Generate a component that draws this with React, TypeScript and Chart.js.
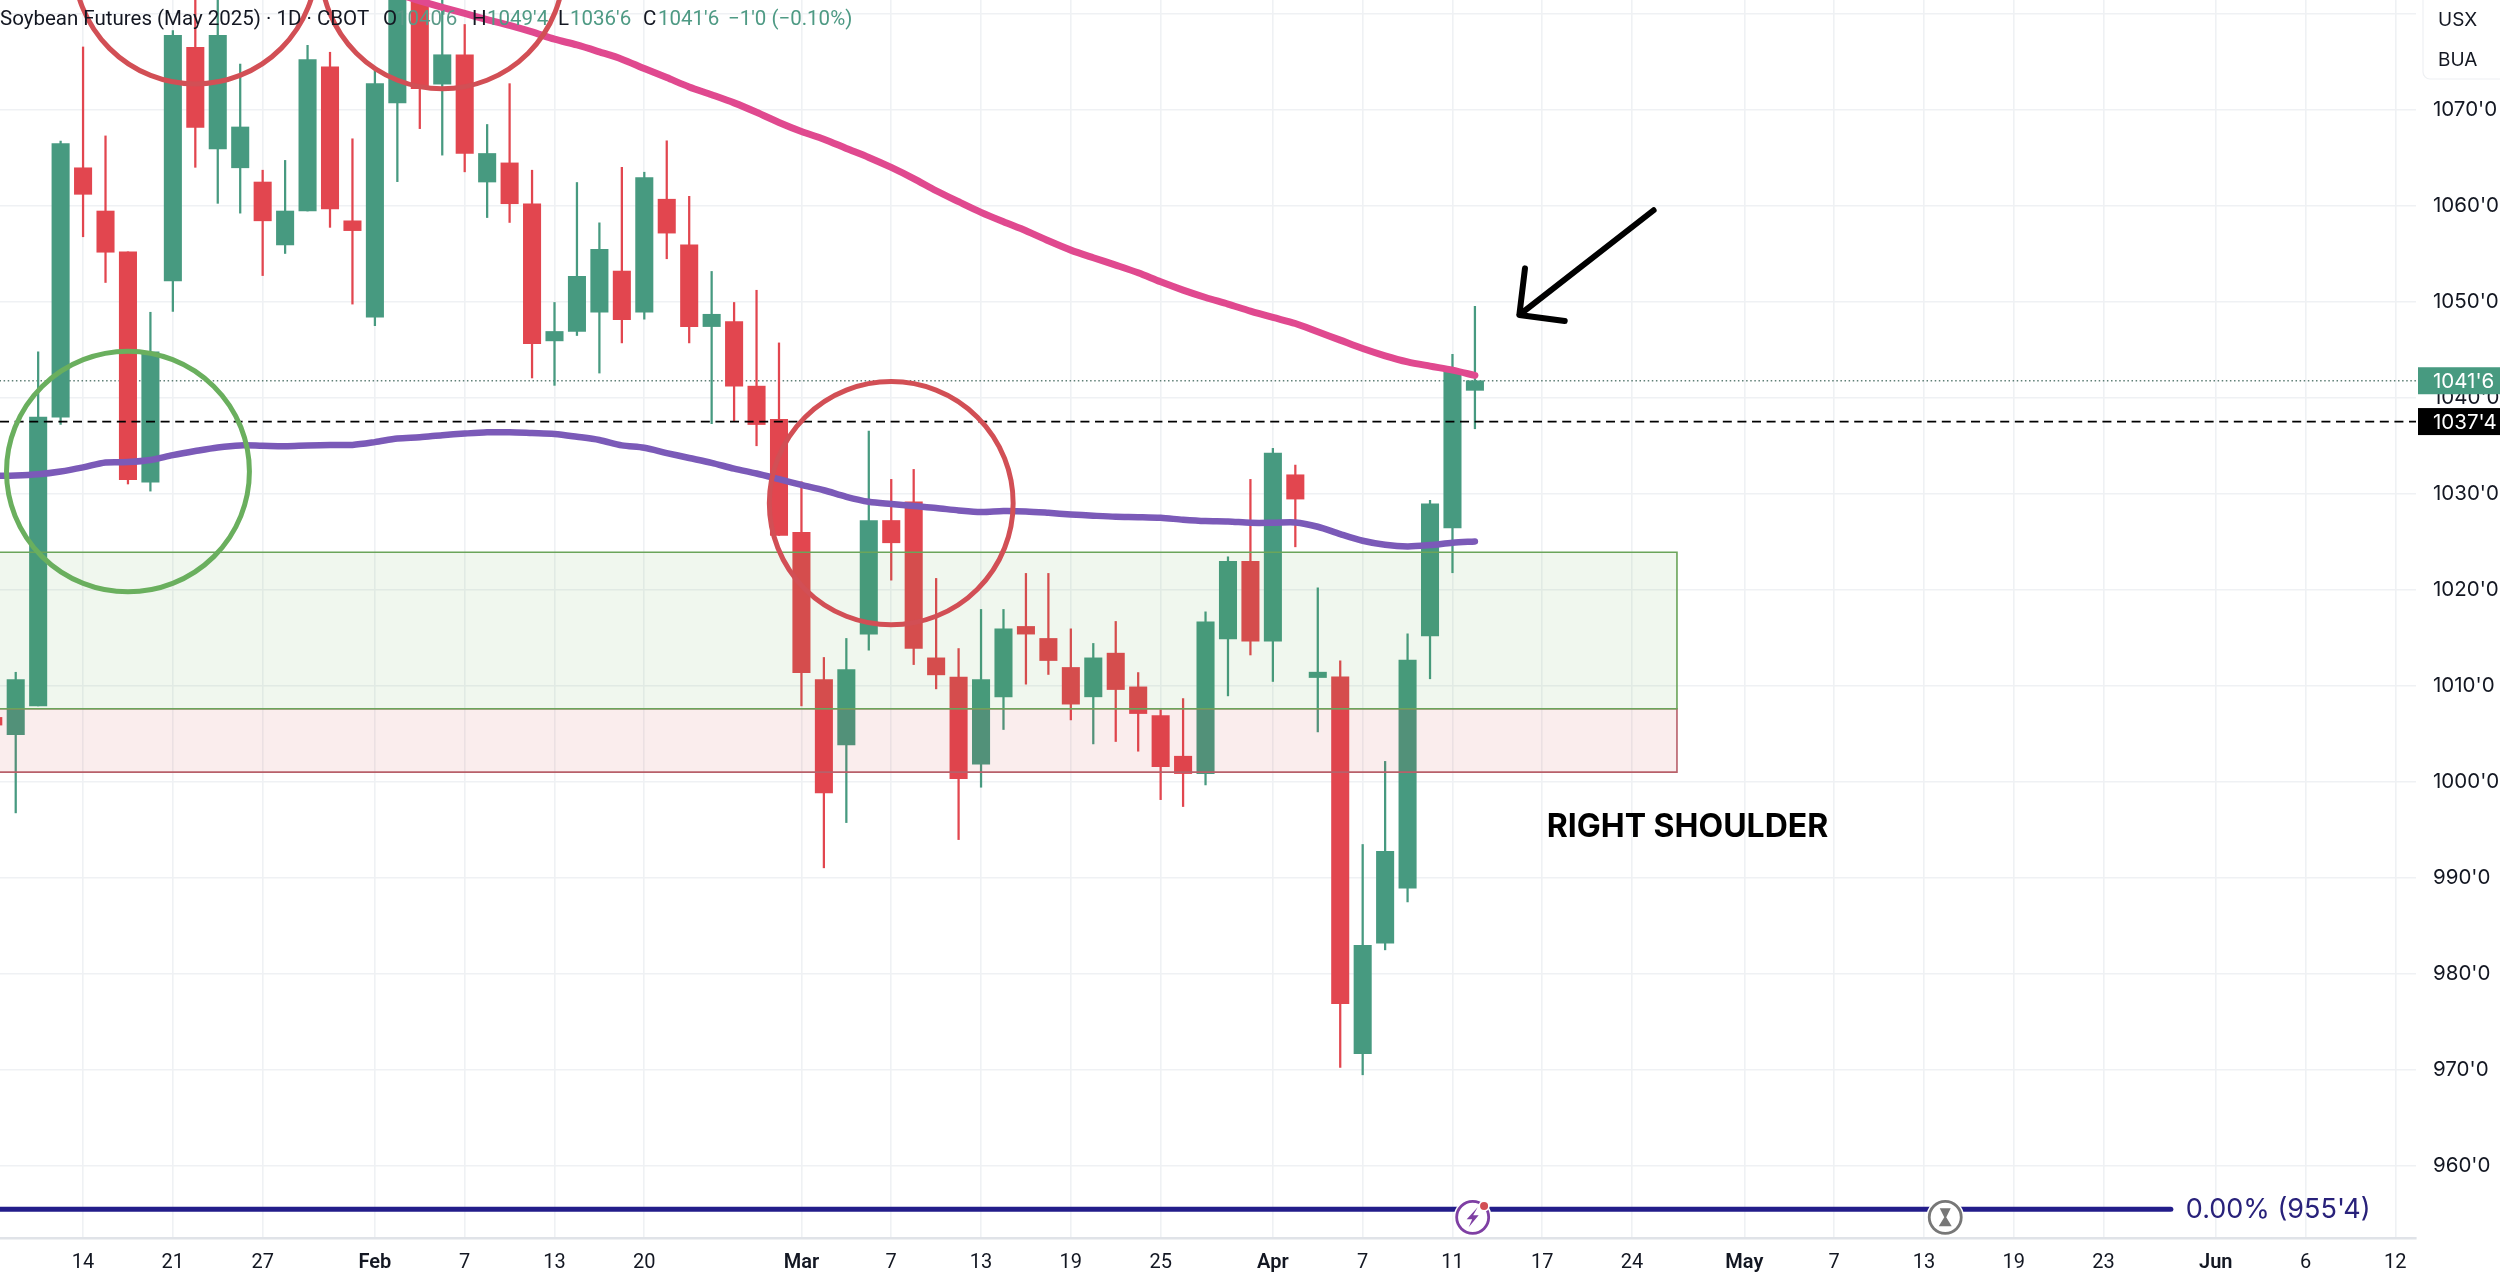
import React, { useEffect, useRef } from "react";
import { Chart, registerables } from "chart.js";

Chart.register(...registerables);

// Candles: the first entry is session -1, each next entry is one session later
const opens = [1006.7,1004.9,1007.9,1037.96,1063.92,1059.42,1055.17,1031.2,1052.15,1076.46,1065.88,1063.92,1062.44,1055.89,1059.42,1074.42,1058.4,1048.37,1070.68,1083,1072.63,1075.69,1062.44,1064.43,1060.18,1045.9,1046.88,1048.88,1053.17,1048.88,1060.65,1055.89,1047.39,1047.9,1041.19,1037.73,1025.96,1010.65,1003.84,1015.37,1027.2,1029.15,1012.9,1010.89,1001.83,1008.84,1016.17,1014.92,1011.9,1008.84,1013.39,1009.88,1006.9,1002.66,1000.85,1014.88,1022.94,1014.64,1031.96,1010.85,1010.92,971.68,983.2,988.93,1015.19,1026.44,1040.75];
const closes = [1005.9,1010.65,1037.96,1066.43,1061.16,1055.13,1031.45,1044.76,1077.7,1068.13,1077.7,1068.17,1058.4,1059.42,1075.18,1059.63,1057.38,1072.68,1083,1072.17,1075.69,1065.41,1065.41,1060.18,1045.61,1046.88,1052.62,1055.42,1048.11,1062.9,1057.12,1047.39,1048.67,1041.19,1037.19,1025.65,1011.37,998.84,1011.69,1027.2,1024.88,1013.87,1011.13,1000.33,1010.65,1015.92,1015.37,1012.62,1008.08,1012.9,1009.6,1007.1,1001.58,1000.85,1016.65,1022.94,1014.64,1034.22,1029.43,1011.41,976.9,982.96,992.76,1012.68,1028.93,1042.8,1041.75];
const highs = [1007.5,1011.4,1044.76,1066.7,1076.5,1067.24,1055.17,1048.88,1078.2,1083,1083,1074.72,1063.67,1064.69,1076.67,1075.95,1066.94,1074.2,1084,1084,1082,1078.84,1068.43,1072.68,1063.67,1049.9,1062.39,1058.19,1063.97,1063.46,1066.73,1060.95,1053.13,1049.9,1051.17,1045.69,1031.23,1012.94,1014.92,1036.51,1031.48,1032.52,1021.17,1013.87,1017.94,1017.94,1021.69,1021.69,1015.92,1014.4,1016.69,1011.37,1007.5,1008.66,1017.69,1023.42,1031.48,1034.71,1032.97,1020.19,1012.6,993.47,1002.12,1015.39,1029.3,1044.5,1049.5];
const lows = [1005.5,996.76,1007.9,1037.2,1056.74,1051.98,1031.0,1030.26,1048.96,1063.97,1060.22,1059.2,1052.7,1055.0,1059.42,1057.72,1049.73,1047.48,1062.48,1068.0,1065.24,1063.5,1058.74,1058.23,1042.04,1041.27,1046.46,1042.55,1045.69,1048.16,1054.45,1045.69,1037.28,1037.6,1034.98,1025.65,1007.9,991.04,995.75,1013.7,1020.99,1012.2,1009.67,993.98,999.43,1005.44,1010.16,1011.17,1006.44,1003.94,1004.19,1003.18,998.14,997.42,999.67,1008.94,1013.2,1010.44,1024.46,1005.19,970.25,969.49,982.5,987.5,1010.72,1021.76,1036.75];
const candleSessions = opens.map((_, i) => i - 1);

// Slow moving average (purple), starting at session -1
const purpleAverage = [1031.85,1031.88,1032.01,1032.3,1032.73,1033.24,1033.28,1033.49,1034.0,1034.43,1034.81,1035.02,1034.98,1034.94,1035.02,1035.07,1035.07,1035.36,1035.74,1035.87,1036.08,1036.25,1036.38,1036.38,1036.3,1036.21,1035.92,1035.58,1035.02,1034.77,1034.22,1033.71,1033.2,1032.6,1032.09,1031.5,1030.9,1030.35,1029.67,1029.15,1028.91,1028.7,1028.5,1028.25,1028.08,1028.18,1028.14,1028.0,1027.83,1027.7,1027.59,1027.55,1027.48,1027.28,1027.14,1027.1,1026.96,1026.96,1027.0,1026.55,1025.78,1025.09,1024.67,1024.5,1024.64,1024.88,1025.02];
// Fast moving average (pink), starting at session 16
const pinkFirstSession = 16;
const pinkAverage = [1082.5,1082.0,1081.3,1080.62,1079.99,1079.35,1078.75,1078.07,1077.31,1076.71,1075.99,1075.23,1074.25,1073.31,1072.34,1071.53,1070.68,1069.7,1068.64,1067.7,1066.9,1065.94,1065.0,1063.96,1062.8,1061.53,1060.39,1059.28,1058.3,1057.37,1056.32,1055.35,1054.55,1053.79,1052.99,1052.05,1051.19,1050.42,1049.73,1049.0,1048.34,1047.71,1046.85,1045.98,1045.11,1044.35,1043.72,1043.27,1042.85,1042.3];

const tickSessions = [3,7,11,16,20,24,28,35,39,43,47,51,56,60,64,68,72,77,81,85,89,93,98,102,106];
const tickLabels = ["14","21","27","Feb","7","13","20","Mar","7","13","19","25","Apr","7","11","17","24","May","7","13","19","23","Jun","6","12"];
const monthLabels = ["Feb","Mar","Apr","May","Jun"];

const lastPrice = 1041.75;
const lastPriceLabel = "1041'6";
const settlePrice = 1037.5;
const settlePriceLabel = "1037'4";
const fibPrice = 955.5;
const fibLabel = "0.00% (955'4)";
const fibLastSession = 96;

const zoneEndSession = 74;
const greenZone = [1007.6, 1023.9];
const redZone = [1001.0, 1007.6];

// [centre session, centre price, radius in sessions, radius in price]
const greenCircles = [[5, 1032.3, 5.41, 12.53]];
const redCircles = [[8, 1085.3, 5.41, 12.65], [19, 1084.8, 5.41, 12.65], [39, 1029, 5.43, 12.66]];

// Arrow as [session, price] pairs
const arrowTail = [72.96, 1059.5];
const arrowTip = [66.98, 1048.6];
const arrowHeadTop = [67.23, 1053.45];
const arrowHeadBottom = [69.0, 1047.97];

const noteText = "RIGHT SHOULDER";
const noteAt = [68.2, 995.2];
const boltSession = 64.9;
const hourglassSession = 85.95;
const iconPrice = 954.65;

const titleText = "Soybean Futures (May 2025) · 1D · CBOT";
const legendPieces: [string, number, string][] = [
  [titleText, 0, "#131722"],
  ["O", 383, "#131722"],
  ["1040'6", 396, "#5a9a88"],
  ["H", 472, "#131722"],
  ["1049'4", 487, "#4e9a84"],
  ["L", 558, "#131722"],
  ["1036'6", 570, "#4e9a84"],
  ["C", 643, "#131722"],
  ["1041'6", 658, "#4e9a84"],
  ["−1'0 (−0.10%)", 728, "#4e9a84"],
];

const UP = "#479a80";
const DOWN = "#e2464f";
const candleColors = opens.map((o, i) => (closes[i] >= o ? UP : DOWN));

const noPadding = (s: any) => {
  s.paddingTop = 0;
  s.paddingBottom = 0;
  s.paddingLeft = 0;
  s.paddingRight = 0;
};

const overlays = {
  id: "overlays",
  afterDatasetDraw(chart: any, args: any) {
    if (chart.data.datasets[args.index].label !== "Bodies") return;
    const { ctx, scales, chartArea } = chart;
    const x = scales.x, y = scales.y;
    const right = x.getPixelForValue(zoneEndSession);
    const band = (vals: number[], fill: string, stroke: string) => {
      const top = y.getPixelForValue(vals[1]);
      const bottom = y.getPixelForValue(vals[0]);
      ctx.save();
      ctx.fillStyle = fill;
      ctx.fillRect(chartArea.left, top, right - chartArea.left, bottom - top);
      ctx.strokeStyle = stroke;
      ctx.lineWidth = 1.6;
      ctx.beginPath();
      ctx.moveTo(chartArea.left - 2, top);
      ctx.lineTo(right, top);
      ctx.lineTo(right, bottom);
      ctx.lineTo(chartArea.left - 2, bottom);
      ctx.stroke();
      ctx.restore();
    };
    band(redZone, "rgba(205,50,60,0.09)", "#b8606a");
    band(greenZone, "rgba(80,165,60,0.085)", "#6ba55a");
  },
  afterDatasetsDraw(chart: any) {
    const { ctx, scales } = chart;
    const x = scales.x, y = scales.y;
    const px = (s: number) => x.getPixelForValue(s);
    const py = (v: number) => y.getPixelForValue(v);
    const ring = (c: number[], color: string) => {
      const rx = Math.abs(px(c[0] + c[2]) - px(c[0]));
      const ry = Math.abs(py(c[1] + c[3]) - py(c[1]));
      ctx.save();
      ctx.strokeStyle = color;
      ctx.lineWidth = 5;
      ctx.beginPath();
      ctx.ellipse(px(c[0]), py(c[1]), rx, ry, 0, 0, Math.PI * 2);
      ctx.stroke();
      ctx.restore();
    };
    greenCircles.forEach((c) => ring(c, "#6aaf5e"));
    redCircles.forEach((c) => ring(c, "#d24f55"));

    // arrow
    ctx.save();
    ctx.strokeStyle = "#000";
    ctx.lineWidth = 6;
    ctx.lineCap = "round";
    ctx.lineJoin = "round";
    ctx.beginPath();
    ctx.moveTo(px(arrowTail[0]), py(arrowTail[1]));
    ctx.lineTo(px(arrowTip[0]), py(arrowTip[1]));
    ctx.moveTo(px(arrowHeadTop[0]), py(arrowHeadTop[1]));
    ctx.lineTo(px(arrowTip[0]), py(arrowTip[1]));
    ctx.lineTo(px(arrowHeadBottom[0]), py(arrowHeadBottom[1]));
    ctx.stroke();
    ctx.restore();

    // note
    ctx.save();
    ctx.font = "700 32px Inter";
    ctx.fillStyle = "#000";
    ctx.textAlign = "left";
    ctx.textBaseline = "middle";
    ctx.fillText(noteText, px(noteAt[0]), py(noteAt[1]));

    // fib label
    ctx.font = "27px Inter";
    ctx.fillStyle = "#28217a";
    ctx.fillText(fibLabel, px(fibLastSession) + 15, py(fibPrice) + 1);
    ctx.restore();

    // bolt icon
    const iy = py(iconPrice);
    const bx = px(boltSession);
    ctx.save();
    ctx.fillStyle = "#fff";
    ctx.beginPath();
    ctx.arc(bx, iy, 19, 0, Math.PI * 2);
    ctx.fill();
    ctx.strokeStyle = "#7e3fa3";
    ctx.lineWidth = 2.8;
    ctx.beginPath();
    ctx.arc(bx, iy, 16, 0, Math.PI * 2);
    ctx.stroke();
    ctx.fillStyle = "#7e3fa3";
    ctx.beginPath();
    ctx.moveTo(bx + 5, iy - 10);
    ctx.lineTo(bx - 6, iy + 2);
    ctx.lineTo(bx - 0.5, iy + 2);
    ctx.lineTo(bx - 4, iy + 10);
    ctx.lineTo(bx + 6, iy - 2);
    ctx.lineTo(bx + 0.5, iy - 2);
    ctx.closePath();
    ctx.fill();
    ctx.fillStyle = "#fff";
    ctx.beginPath();
    ctx.arc(bx + 11.4, iy - 11.3, 5.6, 0, Math.PI * 2);
    ctx.fill();
    ctx.fillStyle = "#d24f55";
    ctx.beginPath();
    ctx.arc(bx + 11.4, iy - 11.3, 4, 0, Math.PI * 2);
    ctx.fill();

    // hourglass icon
    const hx = px(hourglassSession);
    ctx.fillStyle = "#fff";
    ctx.beginPath();
    ctx.arc(hx, iy, 19, 0, Math.PI * 2);
    ctx.fill();
    ctx.strokeStyle = "#777";
    ctx.lineWidth = 2.8;
    ctx.beginPath();
    ctx.arc(hx, iy, 16, 0, Math.PI * 2);
    ctx.stroke();
    ctx.fillStyle = "#777";
    ctx.beginPath();
    ctx.moveTo(hx - 5.5, iy - 9);
    ctx.lineTo(hx + 5.5, iy - 9);
    ctx.lineTo(hx + 1, iy);
    ctx.lineTo(hx + 6.5, iy + 9);
    ctx.lineTo(hx - 6.5, iy + 9);
    ctx.lineTo(hx - 1, iy);
    ctx.closePath();
    ctx.fill();
    ctx.restore();
  },
  afterDraw(chart: any) {
    const { ctx, scales } = chart;
    const y = scales.y;
    ctx.save();

    // header
    ctx.font = "20.5px Roboto";
    ctx.textAlign = "left";
    ctx.textBaseline = "middle";
    legendPieces.forEach(([t, px, c]) => {
      ctx.fillStyle = c;
      ctx.fillText(t, px, 19.5);
    });

    // price tags
    const tag = (value: number, label: string, bg: string) => {
      const cy = y.getPixelForValue(value);
      ctx.fillStyle = bg;
      ctx.fillRect(2418, cy - 13.5, 82, 27);
      ctx.fillStyle = "#fff";
      ctx.font = "20.5px Inter";
      ctx.textAlign = "left";
      ctx.fillText(label, 2433, cy + 1);
    };
    tag(lastPrice, lastPriceLabel, UP);
    tag(settlePrice, settlePriceLabel, "#000");

    // currency / unit box
    ctx.fillStyle = "#fff";
    ctx.strokeStyle = "#eef0f3";
    ctx.lineWidth = 1.2;
    ctx.beginPath();
    ctx.roundRect(2423, -8, 90, 87, 7);
    ctx.fill();
    ctx.stroke();
    ctx.fillStyle = "#131722";
    ctx.font = "19px Inter";
    ctx.fillText("USX", 2438, 20);
    ctx.fillText("BUA", 2438, 60);
    ctx.restore();
  },
};

export default function App() {
  const ref = useRef<HTMLCanvasElement>(null);
  useEffect(() => {
    document.body.style.margin = "0";
    const data: any = {
      datasets: [
        {
          type: "line",
          label: "Last",
          order: 10,
          data: [{ x: -2, y: lastPrice }, { x: 108, y: lastPrice }],
          borderColor: "#5f7f76",
          borderWidth: 1.5,
          borderDash: [1.5, 2.6],
          pointRadius: 0,
        },
        {
          type: "bar",
          label: "Wicks",
          order: 9,
          data: candleSessions.map((s, i) => ({ x: s, y: [lows[i], highs[i]] })),
          backgroundColor: candleColors,
          barThickness: 1.6,
          grouped: false,
        },
        {
          type: "bar",
          label: "Bodies",
          order: 8,
          data: candleSessions.map((s, i) => ({ x: s, y: [opens[i], closes[i]] })),
          backgroundColor: candleColors,
          barThickness: 17.4,
          grouped: false,
        },
        {
          type: "line",
          label: "Fib",
          order: 4,
          data: [{ x: -2, y: fibPrice }, { x: fibLastSession, y: fibPrice }],
          borderColor: "#231d8a",
          borderWidth: 5,
          borderCapStyle: "round",
          pointRadius: 0,
        },
        {
          type: "line",
          label: "Purple MA",
          order: 3,
          data: candleSessions.map((s, i) => ({ x: s, y: purpleAverage[i] })),
          borderColor: "#7b5ab8",
          borderWidth: 6.5,
          borderCapStyle: "round",
          borderJoinStyle: "round",
          tension: 0.3,
          pointRadius: 0,
        },
        {
          type: "line",
          label: "Pink MA",
          order: 2,
          data: pinkAverage.map((v, i) => ({ x: pinkFirstSession + i, y: v })),
          borderColor: "#e0498f",
          borderWidth: 7,
          borderCapStyle: "round",
          borderJoinStyle: "round",
          tension: 0.3,
          pointRadius: 0,
        },
        {
          type: "line",
          label: "Settle",
          order: 1,
          data: [{ x: -2, y: settlePrice }, { x: 108, y: settlePrice }],
          borderColor: "#000",
          borderWidth: 1.8,
          borderDash: [9, 5.6],
          pointRadius: 0,
        },
      ],
    };
    const chart = new Chart(ref.current!, {
      type: "bar",
      data,
      plugins: [overlays],
      options: {
        responsive: false,
        animation: false,
        devicePixelRatio: 1,
        layout: { padding: 0 },
        plugins: { legend: { display: false }, tooltip: { enabled: false }, title: { display: false } },
        scales: {
          x: {
            type: "linear",
            offset: false,
            min: -0.7,
            max: 106.92,
            afterFit: (s: any) => { s.height = 40; noPadding(s); },
            afterBuildTicks: (s: any) => { s.ticks = tickSessions.map((value) => ({ value })); },
            grid: { color: "#eff1f4", lineWidth: 1.6, drawTicks: false, offset: false },
            border: { display: true, color: "#e0e3e8", width: 2.4 },
            ticks: {
              autoSkip: false,
              maxRotation: 0,
              padding: 13,
              color: "#131722",
              font: (c: any) => {
                const label = tickLabels[tickSessions.indexOf(c.tick?.value)];
                return { family: "Roboto", size: 20, weight: monthLabels.includes(label) ? "600" : "400" };
              },
              callback: (v: any) => tickLabels[tickSessions.indexOf(v)],
            },
          },
          y: {
            type: "linear",
            position: "right",
            min: 952.5,
            max: 1081.39,
            afterFit: (s: any) => { s.width = 84; noPadding(s); },
            grid: { color: "#eff1f4", lineWidth: 1.6, drawTicks: false },
            border: { display: false },
            ticks: {
              stepSize: 10,
              includeBounds: false,
              autoSkip: false,
              padding: 17,
              color: "#131722",
              font: { family: "Inter", size: 20.5 },
              callback: (v: any) => `${v}'0`,
            },
          },
        },
      } as any,
    });
    return () => chart.destroy();
  }, []);
  return (
    <div style={{ width: 2500, height: 1278, background: "#fff" }}>
      <canvas ref={ref} width={2500} height={1278} style={{ display: "block" }} />
    </div>
  );
}
